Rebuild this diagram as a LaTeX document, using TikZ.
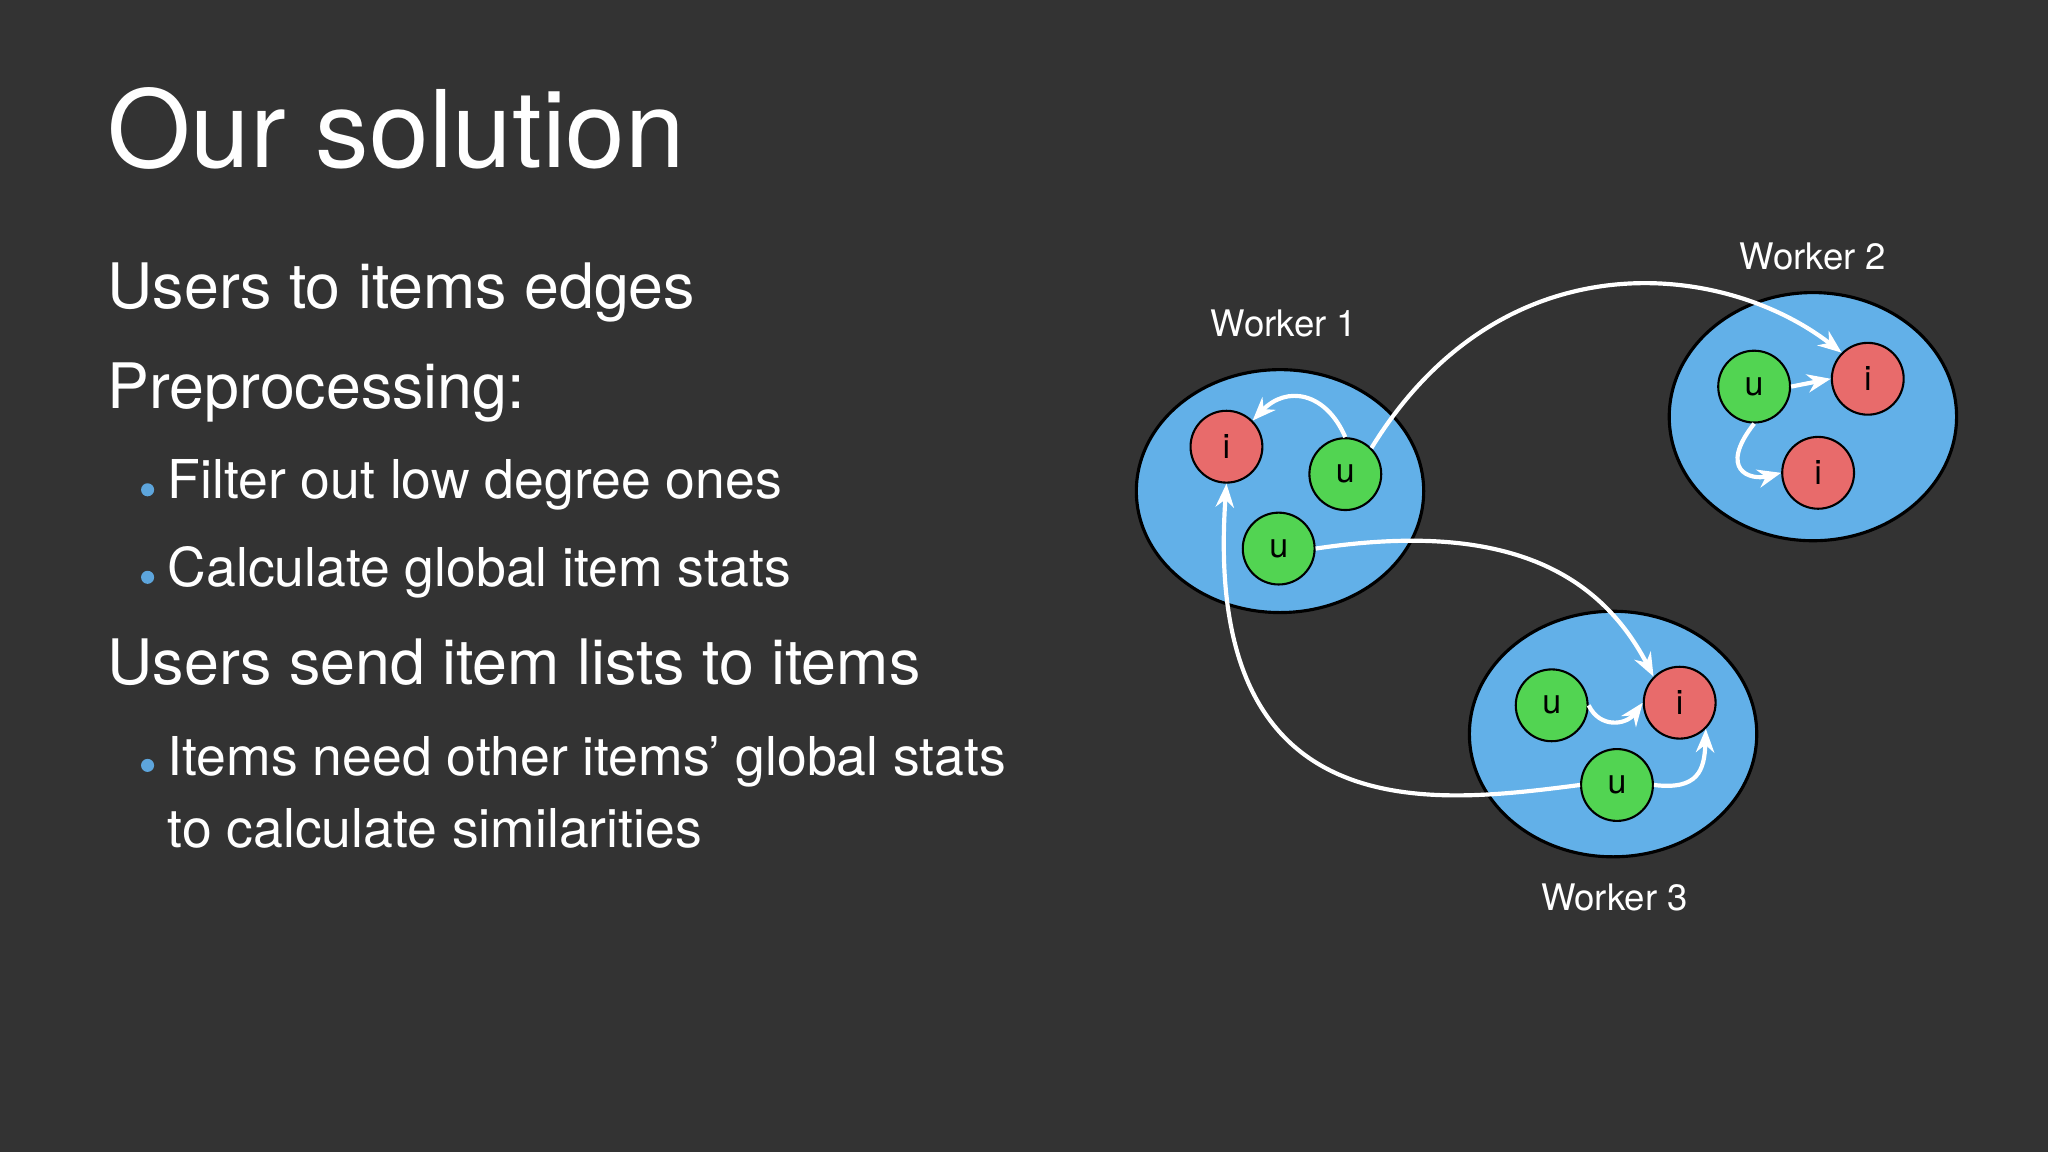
\documentclass[tikz,border=0pt]{standalone}
\usepackage{fontspec}
\setmainfont{TeX Gyre Heros}
\usetikzlibrary{arrows.meta}
\definecolor{bg}{HTML}{333333}
\definecolor{wblue}{HTML}{62B0E8}
\definecolor{ired}{HTML}{E86B6B}
\definecolor{ugreen}{HTML}{52D452}
\definecolor{bul}{HTML}{5DA5DC}
\begin{document}
\begin{tikzpicture}[x=0.5pt,y=-0.5pt,
  txt/.style={text=white,anchor=base west,inner sep=0pt},
  big/.style={txt,font=\fontsize{24}{28}\selectfont},
  small/.style={txt,font=\fontsize{20.5}{24}\selectfont},
  wlab/.style={text=white,font=\fontsize{14}{16}\selectfont},
  worker/.style={draw=black,line width=1.2pt,fill=wblue},
  inode/.style={circle,draw=black,line width=0.8pt,fill=ired,minimum size=27.5pt,inner sep=0pt,font=\fontsize{13}{15}\selectfont},
  unode/.style={circle,draw=black,line width=0.8pt,fill=ugreen,minimum size=27.5pt,inner sep=0pt,font=\fontsize{13}{15}\selectfont},
  edge/.style={draw=white,line width=1.6pt,-{Stealth[length=9pt,width=7pt]}}]
\fill[bg] (0,0) rectangle (1568,882);
\useasboundingbox (0,0) rectangle (1568,882);
\node[txt,font=\fontsize{41}{48}\selectfont] (title) at (82,128) {Our solution};
\node[big] (l1) at (82,236) {Users to items edges};
\node[big] (l2) at (82,313) {Preprocessing:};
\node[small] (b1) at (128,382) {Filter out low degree ones};
\node[small] (b2) at (128,449) {Calculate global item stats};
\node[big] (l3) at (82,524) {Users send item lists to items};
\node[small] (b3) at (128,594) {Items need other items’ global stats};
\node[small] (b4) at (128,649) {to calculate similarities};
\foreach \y/\n in {375/d1,442/d2,586/d3} \fill[bul] (113,\y) circle (5);
% workers
\draw[worker] (980,376) ellipse [x radius=110,y radius=93];
\draw[worker] (1388,319) ellipse [x radius=110,y radius=95];
\draw[worker] (1235,562) ellipse [x radius=110,y radius=94];
\node[wlab] (w1) at (983,248) {Worker 1};
\node[wlab] (w2) at (1388,196) {Worker 2};
\node[wlab] (w3) at (1236,687) {Worker 3};
\node[inode] (i1) at (939,342) {i};
\node[unode] (u1) at (1030,363) {u};
\node[unode] (u2) at (979,420) {u};
\node[unode] (u3) at (1343,296) {u};
\node[inode] (i2) at (1430,290) {i};
\node[inode] (i3) at (1392,362) {i};
\node[unode] (u4) at (1188,540) {u};
\node[inode] (i4) at (1286,538) {i};
\node[unode] (u5) at (1238,601) {u};
\draw[edge] (u1.north) .. controls (1015,300) and (985,295) .. (i1.north east);
\draw[edge] (u1.north east) .. controls (1150,180) and (1320,200) .. (i2.north west);
\draw[edge] (u2.east) .. controls (1140,400) and (1220,430) .. (i4.north west);
\draw[edge] (u5.west) .. controls (1100,615) and (920,640) .. (i1.south);
\draw[edge] (u3.east) -- (i2.west);
\draw[edge] (u3.south) .. controls (1315,360) and (1340,368) .. (i3.west);
\draw[edge] (u4.east) .. controls (1225,558) and (1245,555) .. (i4.west);
\draw[edge] (u5.east) .. controls (1300,605) and (1305,590) .. (i4.south east);
\end{tikzpicture}
\end{document}
